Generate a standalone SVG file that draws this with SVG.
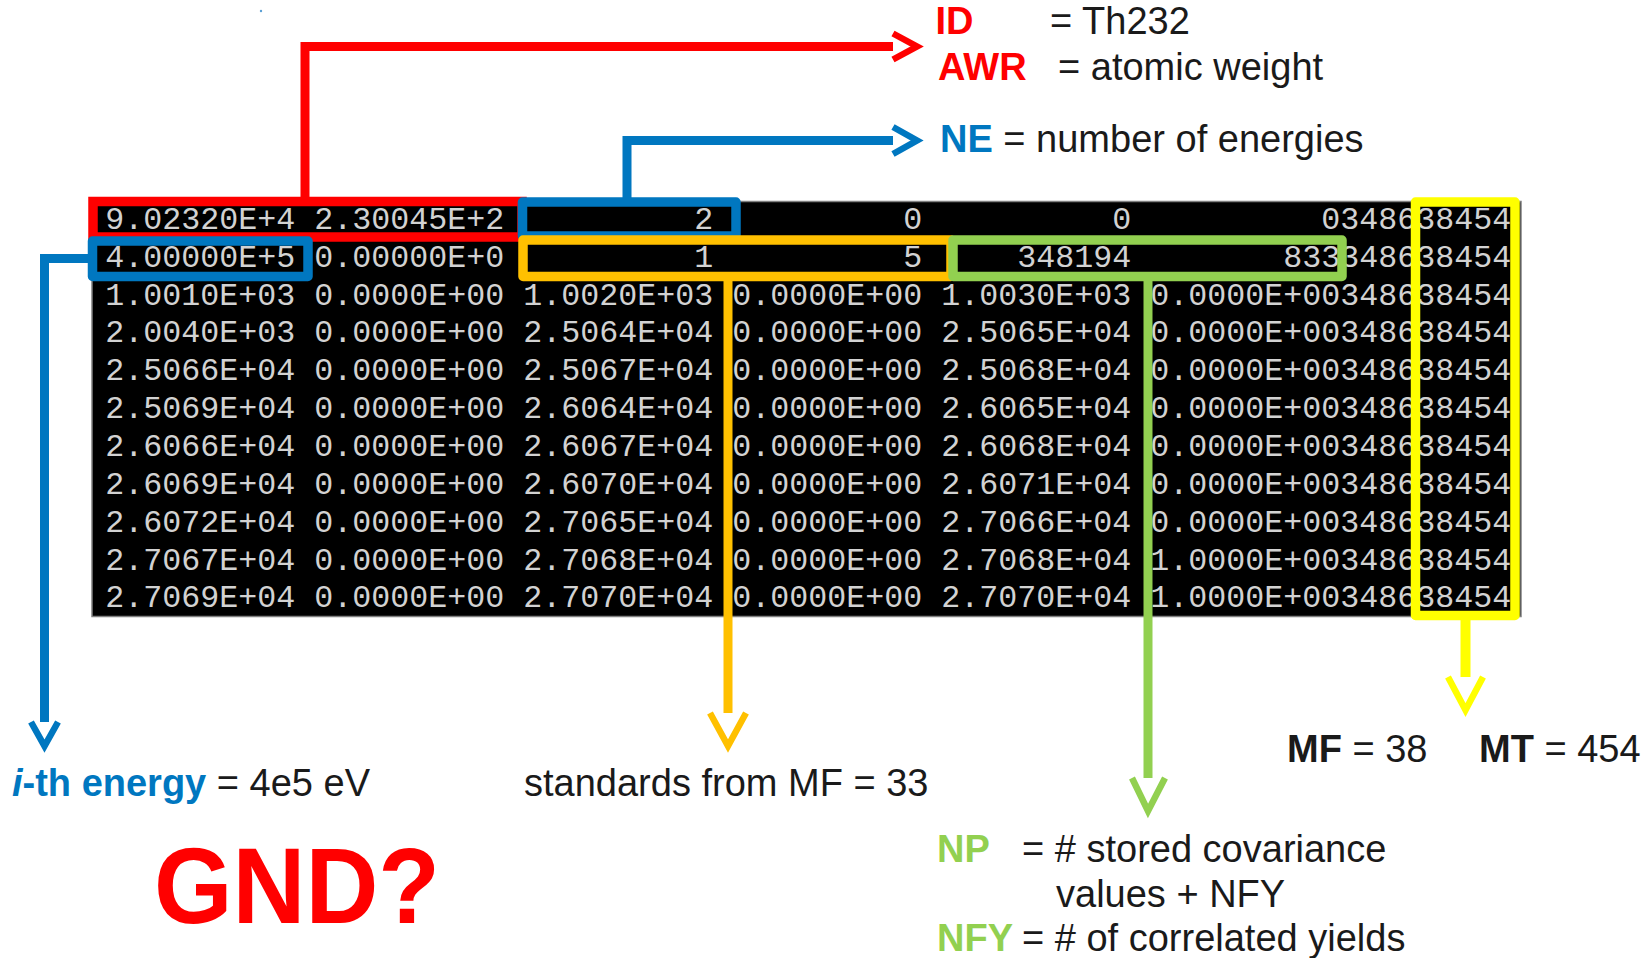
<svg xmlns="http://www.w3.org/2000/svg" width="1649" height="958" viewBox="0 0 1649 958">
  <style>
    .lbl { font-family: "Liberation Sans", Arial, sans-serif; font-size: 38px; fill: #1a1a1a; }
    .b { font-weight: bold; }
    .red { fill: #ff0000; }
    .blue { fill: #0077c0; }
    .green { fill: #92d050; }
    .row { font-family: "Liberation Mono", "Courier New", monospace; font-size: 31.67px; fill: #d2d2d2; white-space: pre; }
    .box { fill: none; stroke-width: 9.5; stroke-linejoin: round; }
    .wire { fill: none; stroke-width: 9; stroke-linejoin: miter; stroke-linecap: butt; }
    .head { fill: none; stroke-width: 6.5; stroke-linejoin: miter; stroke-miterlimit: 10; stroke-linecap: butt; }
    .c-red { stroke: #ff0000; }
    .c-blue { stroke: #0077c0; }
    .c-orange { stroke: #ffc000; }
    .c-green { stroke: #92d050; }
    .c-yellow { stroke: #ffff00; }
  </style>

  <rect width="1649" height="958" fill="#ffffff"/>
  <circle cx="261" cy="11" r="1.2" fill="#5a9fd4"/>

  <!-- ENDF record listing: 75 fixed-width columns per line -->
  <g id="listing">
    <rect x="92" y="201.5" width="1429" height="415" fill="#000000" stroke="#808080" stroke-width="1.5"/>
    <g class="row">
      <text xml:space="preserve" x="86.3" y="228.8" textLength="1425" lengthAdjust="spacing"> 9.02320E+4 2.30045E+2          2          0          0          0348638454</text>
      <text xml:space="preserve" x="86.3" y="266.7" textLength="1425" lengthAdjust="spacing"> 4.00000E+5 0.00000E+0          1          5     348194        833348638454</text>
      <text xml:space="preserve" x="86.3" y="304.5" textLength="1425" lengthAdjust="spacing"> 1.0010E+03 0.0000E+00 1.0020E+03 0.0000E+00 1.0030E+03 0.0000E+00348638454</text>
      <text xml:space="preserve" x="86.3" y="342.4" textLength="1425" lengthAdjust="spacing"> 2.0040E+03 0.0000E+00 2.5064E+04 0.0000E+00 2.5065E+04 0.0000E+00348638454</text>
      <text xml:space="preserve" x="86.3" y="380.2" textLength="1425" lengthAdjust="spacing"> 2.5066E+04 0.0000E+00 2.5067E+04 0.0000E+00 2.5068E+04 0.0000E+00348638454</text>
      <text xml:space="preserve" x="86.3" y="418.1" textLength="1425" lengthAdjust="spacing"> 2.5069E+04 0.0000E+00 2.6064E+04 0.0000E+00 2.6065E+04 0.0000E+00348638454</text>
      <text xml:space="preserve" x="86.3" y="456.0" textLength="1425" lengthAdjust="spacing"> 2.6066E+04 0.0000E+00 2.6067E+04 0.0000E+00 2.6068E+04 0.0000E+00348638454</text>
      <text xml:space="preserve" x="86.3" y="493.8" textLength="1425" lengthAdjust="spacing"> 2.6069E+04 0.0000E+00 2.6070E+04 0.0000E+00 2.6071E+04 0.0000E+00348638454</text>
      <text xml:space="preserve" x="86.3" y="531.7" textLength="1425" lengthAdjust="spacing"> 2.6072E+04 0.0000E+00 2.7065E+04 0.0000E+00 2.7066E+04 0.0000E+00348638454</text>
      <text xml:space="preserve" x="86.3" y="569.5" textLength="1425" lengthAdjust="spacing"> 2.7067E+04 0.0000E+00 2.7068E+04 0.0000E+00 2.7068E+04 1.0000E+00348638454</text>
      <text xml:space="preserve" x="86.3" y="607.4" textLength="1425" lengthAdjust="spacing"> 2.7069E+04 0.0000E+00 2.7070E+04 0.0000E+00 2.7070E+04 1.0000E+00348638454</text>
    </g>
  </g>

  <!-- field highlight boxes -->
  <g id="box-id-awr"><rect class="box c-red" style="stroke-linejoin:miter" x="93" y="201.5" width="429" height="35.5"/></g>
  <g id="box-energy"><rect class="box c-blue" x="92.5" y="241" width="215.5" height="35.5"/></g>
  <g id="box-ne"><rect class="box c-blue" x="522.5" y="202" width="213.5" height="34"/></g>
  <g id="box-standards"><rect class="box c-orange" x="523" y="240" width="428" height="36.5"/></g>
  <g id="box-np-nfy"><rect class="box c-green" x="953" y="240" width="389" height="36.5"/></g>
  <g id="box-mf-mt"><rect class="box c-yellow" x="1415.5" y="202" width="99.5" height="413.5"/></g>

  <!-- connectors -->
  <g id="connectors">
    <polyline class="wire c-red" points="305,199 305,46.5 893,46.5"/>
    <polyline class="head c-red" points="893,33.5 917,46.5 893,59.5"/>

    <polyline class="wire c-blue" points="627,199 627,140.5 893,140.5"/>
    <polyline class="head c-blue" points="893,127 917,140.5 893,154"/>

    <polyline class="wire c-blue" points="90,258.5 44.5,258.5 44.5,722"/>
    <polyline class="head c-blue" points="31,722 44.5,746 58,722"/>

    <polyline class="wire c-orange" points="728,280 728,713"/>
    <polyline class="head c-orange" points="710,713 728,746 746,713"/>

    <polyline class="wire c-green" points="1148,280 1148,778"/>
    <polyline class="head c-green" points="1132,778 1148,811 1165,778"/>

    <polyline class="wire c-yellow" style="stroke-width:10" points="1465.5,619 1465.5,677"/>
    <polyline class="head c-yellow" points="1448,677 1465.5,710 1483,677"/>
  </g>

  <!-- labels -->
  <g id="label-id">
    <text class="lbl b red" x="935.5" y="34">ID</text>
    <text class="lbl" x="1050" y="34">= Th232</text>
  </g>
  <g id="label-awr">
    <text class="lbl b red" x="938" y="80">AWR</text>
    <text class="lbl" x="1058" y="80">= atomic weight</text>
  </g>
  <g id="label-ne">
    <text class="lbl" x="940" y="152"><tspan class="b blue">NE</tspan> = number of energies</text>
  </g>
  <g id="label-energy">
    <text class="lbl" x="12" y="796"><tspan class="b blue" font-style="italic">i</tspan><tspan class="b blue">-th energy</tspan> = 4e5 eV</text>
  </g>
  <g id="label-standards">
    <text class="lbl" x="524" y="796">standards from MF = 33</text>
  </g>
  <g id="label-mf-mt">
    <text class="lbl" x="1287" y="762"><tspan class="b">MF</tspan> = 38</text>
    <text class="lbl" x="1479" y="762"><tspan class="b">MT</tspan> = 454</text>
  </g>
  <g id="label-np-nfy">
    <text class="lbl b green" x="937" y="862">NP</text>
    <text class="lbl" x="1022" y="862">= # stored covariance</text>
    <text class="lbl" x="1056" y="906.5">values + NFY</text>
    <text class="lbl b green" x="937" y="951">NFY</text>
    <text class="lbl" x="1022" y="951">= # of correlated yields</text>
  </g>
  <g id="label-gnd">
    <text class="b" x="154" y="923" font-family="Liberation Sans, Arial, sans-serif" font-size="108" fill="#ff0000" textLength="286" lengthAdjust="spacingAndGlyphs">GND?</text>
  </g>
</svg>
